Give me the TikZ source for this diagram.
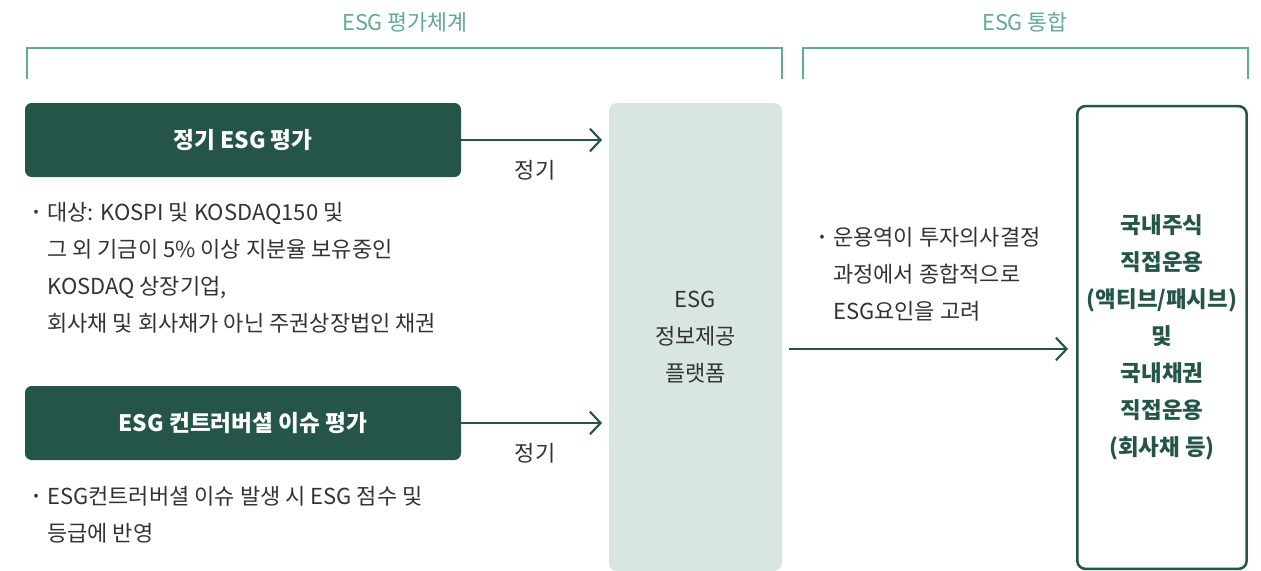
\documentclass[tikz,border=0pt]{standalone}
\usepackage{fontspec}
\setmainfont{Noto Sans CJK KR}
\usepackage{xcolor}
\usetikzlibrary{positioning, arrows.meta, calc}

\definecolor{esgdark}{HTML}{245548}
\definecolor{esglight}{HTML}{D9E6E0}
\definecolor{esgteal}{HTML}{62AA92}
\definecolor{esgtext}{HTML}{333333}

\tikzset{
    bracketline/.style={draw=esgteal, line width=1.1pt},
    headtext/.style={text=esgteal, inner sep=0pt,
                     font=\fontsize{16.3}{19}\selectfont},
    evalbox/.style={fill=esgdark, rounded corners=5pt, text=white,
                    font=\bfseries\fontsize{17}{20}\selectfont,
                    minimum width=327pt, minimum height=55.5pt},
    bodytext/.style={text=esgtext, align=left, inner sep=0pt,
                     anchor=north west,
                     font=\fontsize{16.5}{27.75}\selectfont},
    bulletmark/.style={text=esgtext, inner sep=0pt,
                       font=\fontsize{11}{13}\selectfont},
    flow/.style={draw=esgdark, line width=1.6pt,
                 -{Straight Barb[length=8pt, width=17pt, line width=1.6pt]}},
    cyclelabel/.style={text=esgtext, inner sep=0pt,
                       font=\fontsize{16.5}{19}\selectfont}
}

\begin{document}
\begin{tikzpicture}[x=0.75pt, y=-0.75pt]
    \useasboundingbox (0,0) rectangle (1261,571);

    % headings and brackets
    \node (evalhead) [headtext] at (405,22) {ESG 평가체계};
    \node (mergehead) [headtext] at (1025,22) {ESG 통합};
    \draw [bracketline] (27,79) -- (27,48) -- (782,48) -- (782,79);
    \draw [bracketline] (803,79) -- (803,48) -- (1248,48) -- (1248,79);

    % left column
    \node (regular) [evalbox] at (243,140) {정기 ESG 평가};
    \node (bulletA) [bulletmark] at (36,213) {•};
    \node (targets) [bodytext] at (47,202)
        {대상: KOSPI 및 KOSDAQ150 및\\
         그 외 기금이 5\% 이상 지분율 보유중인\\
         KOSDAQ 상장기업,\\
         회사채 및 회사채가 아닌 주권상장법인 채권};

    \node (controversy) [evalbox] at (243,423) {ESG 컨트러버셜 이슈 평가};
    \node (bulletB) [bulletmark] at (36,497) {•};
    \node (reflect) [bodytext] at (47,486)
        {ESG컨트러버셜 이슈 발생 시 ESG 점수 및\\
         등급에 반영};

    % platform
    \node (platform) [fill=esglight, rounded corners=6pt,
                      minimum width=129.75pt, minimum height=351pt,
                      text=esgtext, align=center,
                      font=\fontsize{16.5}{27.75}\selectfont] at (695.5,337)
        {ESG\\정보제공\\플랫폼};

    % integration
    \node (invest) [draw=esgdark, line width=1.9pt, rounded corners=6pt,
                    minimum width=127pt, minimum height=347pt,
                    text=esgdark, align=center,
                    font=\bfseries\fontsize{16.8}{27.75}\selectfont] at (1162,337.5)
        {국내주식\\직접운용\\(액티브/패시브)\\및\\국내채권\\직접운용\\(회사채 등)};
    \node (bulletC) [bulletmark] at (822,238) {•};
    \node (consider) [bodytext] at (833,227)
        {운용역이 투자의사결정\\
         과정에서 종합적으로\\
         ESG요인을 고려};

    % connectors
    \coordinate (midrow) at (700,349);
    \draw [flow, shorten >=5pt] (regular.east) -- (regular.east -| platform.west)
        node [cyclelabel, midway, yshift=-22.5pt] (labelA) {정기};
    \draw [flow, shorten >=5pt] (controversy.east) -- (controversy.east -| platform.west)
        node [cyclelabel, midway, yshift=-22.5pt] (labelB) {정기};
    \draw [flow, shorten <=5pt, shorten >=6pt] (platform.east |- midrow) -- (invest.west |- midrow);
\end{tikzpicture}
\end{document}
